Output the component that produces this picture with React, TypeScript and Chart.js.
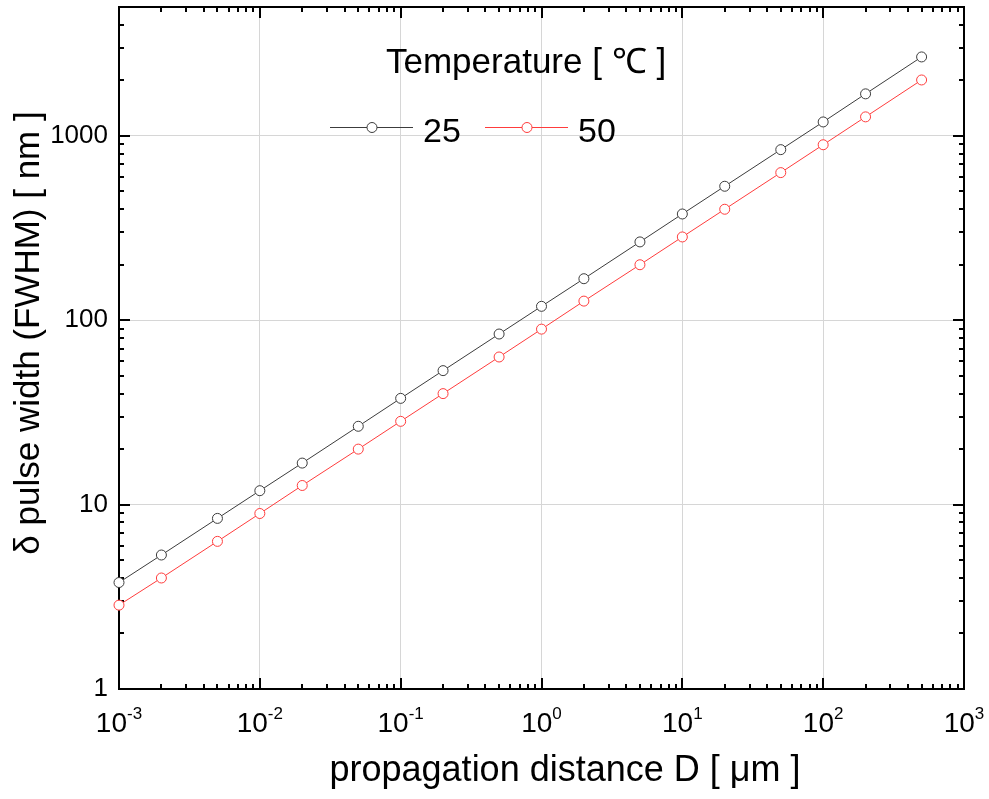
import React, { useEffect, useRef } from 'react';
import { Chart, registerables } from 'chart.js';

Chart.register(...registerables);

// ---- data ----
const distances = [0.001, 0.002, 0.005, 0.01, 0.02, 0.05, 0.1, 0.2, 0.5, 1, 2, 5, 10, 20, 50, 100, 200, 500];
const width25 = [3.78, 5.33, 8.42, 11.9, 16.8, 26.6, 37.7, 53.3, 84.2, 119, 168, 266, 377, 533, 842, 1190, 1690, 2680];
const width50 = [2.85, 4.0, 6.32, 8.95, 12.7, 20.0, 28.3, 40.0, 63.2, 89.5, 127, 200, 283, 400, 632, 895, 1268, 2010];
const seriesLabels = ['25', '50'];
const seriesColors = ['#3c3c3c', '#ff3c3c'];
const legendTitle = 'Temperature [ \u2103 ]';
const xTitle = 'propagation distance D [ \u03bcm ]';
const yTitle = '\u03b4 pulse width (FWHM) [ nm ]';
const xTickExponents = [-3, -2, -1, 0, 1, 2, 3];
const yTickValues = [1, 10, 100, 1000];
const xRange = [1e-3, 1e3];
const yRange = [1, 5000];

const FONT = '"Liberation Sans", Arial, Helvetica, sans-serif';

function minorValues(min: number, max: number): { v: number; major: boolean }[] {
  const out: { v: number; major: boolean }[] = [];
  const e0 = Math.floor(Math.log10(min));
  const e1 = Math.ceil(Math.log10(max));
  for (let e = e0; e <= e1; e++) {
    for (let k = 1; k <= 9; k++) {
      const v = k * Math.pow(10, e);
      if (v >= min * (1 - 1e-9) && v <= max * (1 + 1e-9)) out.push({ v, major: k === 1 });
    }
  }
  return out;
}

const decorPlugin = {
  id: 'decor',
  beforeDatasetsDraw(chart: any) {
    const { ctx, chartArea: a, scales } = chart;
    const xs = scales.x;
    const ys = scales.y;
    ctx.save();
    ctx.strokeStyle = '#000';
    ctx.lineWidth = 2;
    ctx.lineCap = 'butt';
    ctx.beginPath();
    minorValues(xRange[0], xRange[1]).forEach(({ v, major }) => {
      const px = Math.round(xs.getPixelForValue(v));
      const len = major ? 11 : 5;
      ctx.moveTo(px, a.bottom);
      ctx.lineTo(px, a.bottom - len);
      ctx.moveTo(px, a.top);
      ctx.lineTo(px, a.top + len);
    });
    minorValues(yRange[0], yRange[1]).forEach(({ v, major }) => {
      const py = Math.round(ys.getPixelForValue(v));
      const len = major ? 11 : 5;
      ctx.moveTo(a.left, py);
      ctx.lineTo(a.left + len, py);
      ctx.moveTo(a.right, py);
      ctx.lineTo(a.right - len, py);
    });
    ctx.stroke();
    ctx.strokeRect(a.left, a.top, a.right - a.left, a.bottom - a.top);
    ctx.restore();
  },
  afterDraw(chart: any) {
    const { ctx, chartArea: a, scales } = chart;
    const xs = scales.x;
    ctx.save();
    ctx.fillStyle = '#000';
    ctx.textBaseline = 'alphabetic';
    ctx.textAlign = 'left';
    // x tick labels with superscripts
    xTickExponents.forEach((e) => {
      const px = xs.getPixelForValue(Math.pow(10, e));
      const base = '10';
      const sup = String(e);
      ctx.font = `28px ${FONT}`;
      const wb = ctx.measureText(base).width;
      ctx.font = `17px ${FONT}`;
      const ws = ctx.measureText(sup).width;
      const start = px - (wb + ws) / 2;
      ctx.font = `28px ${FONT}`;
      ctx.fillText(base, start, a.bottom + 43);
      ctx.font = `17px ${FONT}`;
      ctx.fillText(sup, start + wb, a.bottom + 30);
    });
    // x title
    ctx.font = `36px ${FONT}`;
    ctx.textAlign = 'center';
    ctx.fillText(xTitle, 565, a.bottom + 92);
    // y title
    ctx.font = `35px ${FONT}`;
    ctx.save();
    ctx.translate(38.5, 333);
    ctx.rotate(-Math.PI / 2);
    ctx.fillText(yTitle, 0, 0);
    ctx.restore();
    // legend
    ctx.textAlign = 'left';
    ctx.font = `35px ${FONT}`;
    ctx.fillText(legendTitle, 386, 73);
    const items = chart.data.datasets;
    const lx = [330, 485];
    items.forEach((ds: any, i: number) => {
      const x0 = lx[i];
      const yy = 127;
      ctx.strokeStyle = ds.borderColor;
      ctx.lineWidth = 1;
      ctx.beginPath();
      ctx.moveTo(x0, yy + 0.5);
      ctx.lineTo(x0 + 83, yy + 0.5);
      ctx.stroke();
      ctx.beginPath();
      ctx.arc(x0 + 42, yy + 0.5, 5, 0, Math.PI * 2);
      ctx.fillStyle = '#fff';
      ctx.fill();
      ctx.stroke();
      ctx.fillStyle = '#000';
      ctx.font = `34px ${FONT}`;
      ctx.fillText(ds.label, x0 + 93, yy + 15);
    });
    ctx.restore();
  },
};

export default function App() {
  const ref = useRef<HTMLCanvasElement | null>(null);
  useEffect(() => {
    document.body.style.margin = '0';
    const canvas = ref.current;
    if (!canvas) return;
    const seriesData = [width25, width50];
    const chart = new Chart(canvas, {
      type: 'line',
      data: {
        datasets: seriesData.map((vals, i) => ({
          label: seriesLabels[i],
          data: distances.map((d, j) => ({ x: d, y: vals[j] })),
          borderColor: seriesColors[i],
          backgroundColor: '#fff',
          borderWidth: 1,
          pointRadius: 5,
          pointBorderWidth: 1,
          pointBackgroundColor: '#fff',
          pointBorderColor: seriesColors[i],
          tension: 0,
          clip: false as any,
        })),
      },
      options: {
        responsive: false,
        animation: false,
        events: [],
        layout: { padding: { top: 7, right: 25, left: 0, bottom: 0 } },
        plugins: { legend: { display: false }, tooltip: { enabled: false }, title: { display: false } },
        scales: {
          x: {
            type: 'logarithmic',
            min: xRange[0],
            max: xRange[1],
            position: 'bottom',
            afterBuildTicks: (s: any) => {
              s.ticks = xTickExponents.map((e) => ({ value: Math.pow(10, e) }));
            },
            afterFit: (s: any) => {
              s.height = 110;
              s.paddingLeft = 0;
              s.paddingRight = 0;
            },
            ticks: { display: false },
            grid: { color: '#d6d6d6', lineWidth: 1, drawTicks: false },
            border: { display: false },
          },
          y: {
            type: 'logarithmic',
            min: yRange[0],
            max: yRange[1],
            position: 'left',
            afterBuildTicks: (s: any) => {
              s.ticks = yTickValues.map((v) => ({ value: v }));
            },
            afterFit: (s: any) => {
              s.width = 119;
              s.paddingTop = 0;
              s.paddingBottom = 0;
            },
            ticks: {
              color: '#000',
              padding: 11,
              font: { size: 26, family: FONT },
              callback: (v: any) => String(v),
            },
            grid: { color: '#d6d6d6', lineWidth: 1, drawTicks: false },
            border: { display: false },
          },
        },
      } as any,
      plugins: [decorPlugin],
    });
    return () => chart.destroy();
  }, []);
  return (
    <div style={{ position: 'fixed', left: 0, top: 0, width: 989, height: 799, background: '#fff' }}>
      <canvas ref={ref} width={989} height={799} style={{ display: 'block' }} />
    </div>
  );
}
